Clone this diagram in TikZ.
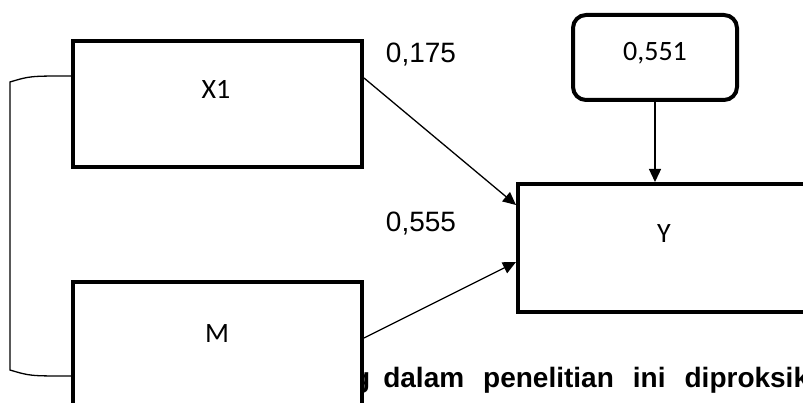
\documentclass[tikz,border=0pt]{standalone}
\usepackage{fontspec}
\setmainfont{Liberation Sans}
\newfontfamily\carlito{Carlito}
\usetikzlibrary{arrows.meta}

\begin{document}
\begin{tikzpicture}[x=1pt,y=-1pt]
        \tikzstyle{every node} = [inner sep=0pt]
        \tikzstyle{var} = [rectangle, draw, line width=4pt, fill=white, minimum width=289pt, minimum height=126pt]
        \tikzstyle{link} = [-{Triangle[length=13pt,width=12pt]}, line width=1.3pt]
        \useasboundingbox (0,0) rectangle (803,403);
        \clip (0,0) rectangle (803,403);
        \node[anchor=base west, font=\bfseries\fontsize{28}{34}\selectfont] (note) at (353,387) {\spaceskip=19pt\relax g\hspace{13pt}dalam penelitian ini diproksik};
        \node[var] (x1) at (217.5,104) {};
        \node[var] (m) at (217.5,345) {};
        \node[var, minimum width=322pt, minimum height=128pt] (y) at (679,248) {};
        \node[var, rounded corners=13pt, minimum width=164pt, minimum height=85pt] (e) at (655,57.5) {};
        \node[anchor=base, font=\carlito\fontsize{28}{34}\selectfont] (x1txt) at (216,99) {X1};
        \node[anchor=base, font=\carlito\fontsize{28}{34}\selectfont] (mtxt) at (217,342) {M};
        \node[anchor=base, font=\carlito\fontsize{28}{34}\selectfont] (ytxt) at (664,243) {Y};
        \node[anchor=base, font=\carlito\fontsize{28}{34}\selectfont] (etxt) at (655,61) {0,551};
        \node[anchor=base, font=\fontsize{28}{34}\selectfont] (p1) at (421,63) {0,175};
        \node[anchor=base, font=\fontsize{28}{34}\selectfont] (p2) at (421,232) {0,555};
        \foreach \from/\a/\b in {x1/26/43, m/7/-14}
            \draw[link] ([yshift=\a pt]\from.east) -- ([yshift=\b pt]y.west);
        \draw[link] (e.south) -- (e.south |- y.north);
        \draw[line width=1.3pt] ([yshift=28pt]x1.west) .. controls (30,76) .. (10,82) -- (10,370) .. controls (30,376) .. ([yshift=-31pt]m.west);
\end{tikzpicture}
\end{document}
